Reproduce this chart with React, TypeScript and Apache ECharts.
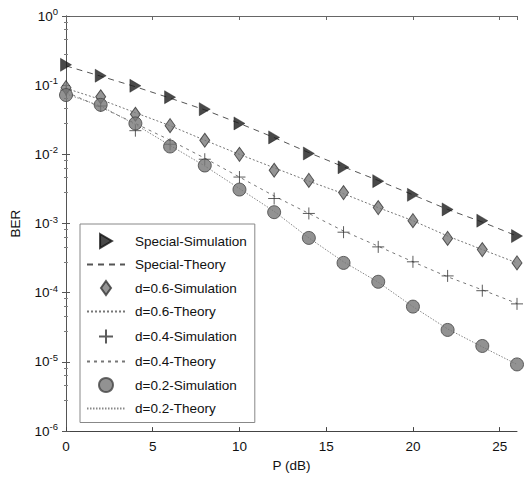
import React, { useEffect, useRef } from "react";
import * as echarts from "echarts";

const xValues = [0, 2, 4, 6, 8, 10, 12, 14, 16, 18, 20, 22, 24, 26];

const specialSim = [0.197, 0.137, 0.098, 0.067, 0.045, 0.028, 0.0176, 0.0103, 0.0065, 0.0041, 0.0026, 0.0016, 0.0011, 0.00066];
const specialTheory = [0.19, 0.135, 0.095, 0.065, 0.044, 0.028, 0.0175, 0.0106, 0.0066, 0.0042, 0.0026, 0.0016, 0.00105, 0.00066];
const d06Sim = [0.092, 0.068, 0.038, 0.026, 0.016, 0.01, 0.0059, 0.0042, 0.0028, 0.0017, 0.0011, 0.00061, 0.00042, 0.00027];
const d06Theory = [0.09, 0.062, 0.04, 0.026, 0.016, 0.01, 0.0064, 0.0041, 0.0027, 0.0017, 0.0011, 0.00066, 0.00042, 0.00027];
const d04Sim = [0.085, 0.05, 0.022, 0.014, 0.0085, 0.0047, 0.0023, 0.0014, 0.00075, 0.00046, 0.00028, 0.000175, 0.000107, 0.000069];
const d04Theory = [0.08, 0.048, 0.028, 0.016, 0.0088, 0.0047, 0.0025, 0.0014, 0.00078, 0.00047, 0.00028, 0.00017, 0.00011, 0.00007];
const d02Sim = [0.072, 0.052, 0.028, 0.013, 0.0069, 0.0031, 0.00146, 0.00062, 0.00027, 0.000144, 0.000063, 0.000029, 0.000017, 0.0000092];
const d02Theory = [0.075, 0.05, 0.027, 0.0135, 0.0068, 0.0032, 0.0015, 0.00062, 0.00028, 0.000142, 0.000063, 0.00003, 0.0000165, 0.0000092];

const legendNames = [
  "Special-Simulation",
  "Special-Theory",
  "d=0.6-Simulation",
  "d=0.6-Theory",
  "d=0.4-Simulation",
  "d=0.4-Theory",
  "d=0.2-Simulation",
  "d=0.2-Theory",
];

const FONT = "'Liberation Sans', Arial, Helvetica, sans-serif";

const pair = (ys: number[]) => xValues.map((x, i) => [x, ys[i]]);

export default function App() {
  const ref = useRef<HTMLDivElement>(null);

  useEffect(() => {
    if (!ref.current) return;
    const chart = echarts.init(ref.current, null, { renderer: "svg" });

    const yLabel = {
      fontFamily: FONT,
      color: "#111",
      margin: 8,
      formatter: (v: number) => {
        const e = Math.round(Math.log10(v));
        return `{b|10}{s|${e}}`;
      },
      rich: {
        b: { fontSize: 13.5, fontFamily: FONT, color: "#111" },
        s: { fontSize: 9.5, fontFamily: FONT, color: "#111", verticalAlign: "bottom", padding: [0, 0, 9, 0] },
      },
    };

    const lineSeries = (name: string, data: number[], type: any, color: string) => ({
      name,
      type: "line",
      data: pair(data),
      showSymbol: false,
      symbol: "none",
      lineStyle: { color, width: 1, type },
      itemStyle: { color },
      z: 2,
    });

    const hiddenIcon = { color: "rgba(0,0,0,0)", borderColor: "rgba(0,0,0,0)", borderWidth: 0 };
    const legendData = legendNames.map((name) =>
      name.endsWith("Theory") ? { name, itemStyle: hiddenIcon } : { name }
    );

    chart.setOption({
      animation: false,
      backgroundColor: "#fff",
      grid: { left: 62, right: 9, top: 16, bottom: 44, containLabel: false },
      xAxis: [
        {
          type: "value",
          min: 0,
          max: 26,
          interval: 5,
          name: "P (dB)",
          nameLocation: "middle",
          nameGap: 19,
          nameTextStyle: { fontFamily: FONT, fontSize: 13.5, color: "#111" },
          axisLine: { show: true, lineStyle: { color: "#444", width: 1 } },
          axisTick: { show: true, inside: true, length: 4, lineStyle: { color: "#444" } },
          axisLabel: { fontFamily: FONT, fontSize: 13.5, color: "#111", margin: 8, showMaxLabel: false },
          splitLine: { show: false },
        },
        {
          type: "value",
          position: "top",
          min: 0,
          max: 26,
          interval: 5,
          axisLine: { show: true, lineStyle: { color: "#666", width: 1 } },
          axisTick: { show: true, inside: true, length: 4, lineStyle: { color: "#666" } },
          axisLabel: { show: false },
          splitLine: { show: false },
        },
      ],
      yAxis: [
        {
          type: "log",
          logBase: 10,
          min: 1e-6,
          max: 1,
          name: "BER",
          nameLocation: "middle",
          nameRotate: 90,
          nameGap: 44,
          nameTextStyle: { fontFamily: FONT, fontSize: 13.5, color: "#111" },
          axisLine: { show: true, lineStyle: { color: "#666", width: 1 } },
          axisTick: { show: true, inside: true, length: 4, lineStyle: { color: "#555" } },
          minorTick: { show: true, splitNumber: 5, length: 2, lineStyle: { color: "#888" } },
          axisLabel: yLabel,
          splitLine: { show: false },
        },
        {
          type: "log",
          logBase: 10,
          min: 1e-6,
          max: 1,
          position: "right",
          axisLine: { show: true, lineStyle: { color: "#555", width: 1 } },
          axisTick: { show: true, inside: true, length: 4, lineStyle: { color: "#555" } },
          minorTick: { show: true, splitNumber: 5, length: 2, lineStyle: { color: "#777" } },
          axisLabel: { show: false },
          splitLine: { show: false },
        },
      ],
      legend: {
        data: legendData,
        orient: "vertical",
        left: 80,
        top: 224,
        itemWidth: 38,
        itemHeight: 14,
        itemGap: 8.5,
        padding: [9, 8, 7, 6],
        borderColor: "#888",
        borderWidth: 1,
        backgroundColor: "#fff",
        selectedMode: false,
        textStyle: { fontFamily: FONT, fontSize: 13.5, color: "#111", lineHeight: 14, padding: [0, 0, 0, 5] },
      },
      series: [
        lineSeries("Special-Theory", specialTheory, [6, 5], "#555"),
        lineSeries("d=0.6-Theory", d06Theory, [2, 2], "#777"),
        lineSeries("d=0.4-Theory", d04Theory, [3, 4], "#777"),
        lineSeries("d=0.2-Theory", d02Theory, [1.5, 1.5], "#888"),
        {
          name: "d=0.4-Simulation",
          type: "scatter",
          data: pair(d04Sim),
          symbol: "path://M0,6L12,6M6,0L6,12",
          symbolSize: 12,
          itemStyle: { color: "none", borderColor: "#333", borderWidth: 1 },
          z: 3,
        },
        {
          name: "d=0.6-Simulation",
          type: "scatter",
          data: pair(d06Sim),
          symbol: "path://M5,0L10,7L5,14L0,7Z",
          symbolSize: [10, 14],
          itemStyle: { color: "#7a7a7a", borderColor: "#333", borderWidth: 1 },
          z: 4,
        },
        {
          name: "d=0.2-Simulation",
          type: "scatter",
          data: pair(d02Sim),
          symbol: "circle",
          symbolSize: 13,
          itemStyle: { color: "#777", borderColor: "#444", borderWidth: 1 },
          z: 5,
        },
        {
          name: "Special-Simulation",
          type: "scatter",
          data: pair(specialSim),
          symbol: "path://M0,0L11,6.5L0,13Z",
          symbolSize: [11, 13],
          itemStyle: { color: "#1c1c1c", borderColor: "#111", borderWidth: 0.5 },
          z: 6,
        },
      ],
    });

    return () => chart.dispose();
  }, []);

  return <div ref={ref} style={{ width: 526, height: 477, position: "absolute", left: 0, top: 0 }} />;
}
